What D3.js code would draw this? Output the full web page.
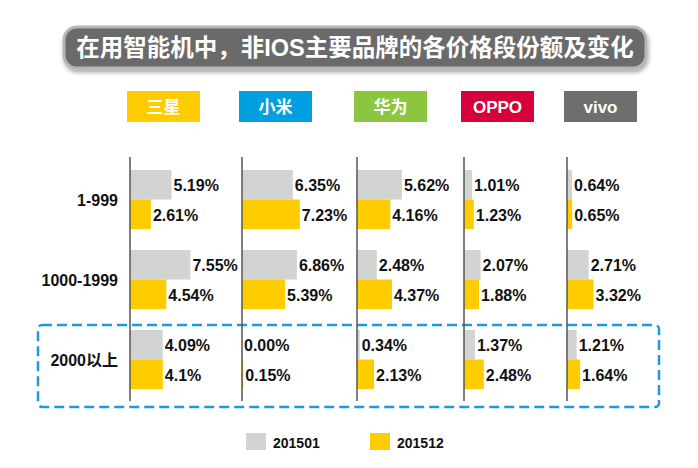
<!DOCTYPE html>
<html><head><meta charset="utf-8">
<script src="https://cdn.jsdelivr.net/npm/d3@7/dist/d3.min.js"></script>
<style>
html,body{margin:0;padding:0;background:#fff;}
svg{display:block;}
</style></head>
<body>
<svg id="c" width="698" height="468"></svg>
<script>
const title = "在用智能机中，非IOS主要品牌的各价格段份额及变化";
const brands = ["三星", "小米", "华为", "OPPO", "vivo"];
const brandColors = ["#FFCC00", "#009FDF", "#8CC63F", "#D6003A", "#6E6E6E"];
const ranges = ["1-999", "1000-1999", "2000以上"];
const series = ["201501", "201512"];
const seriesColors = ["#D3D3D1", "#FFCC00"];
// values per price range, per brand (share, %)
const v201501 = [
  ["5.19", "6.35", "5.62", "1.01", "0.64"],
  ["7.55", "6.86", "2.48", "2.07", "2.71"],
  ["4.09", "0.00", "0.34", "1.37", "1.21"]
];
const v201512 = [
  ["2.61", "7.23", "4.16", "1.23", "0.65"],
  ["4.54", "5.39", "4.37", "1.88", "3.32"],
  ["4.1", "0.15", "2.13", "2.48", "1.64"]
];

// layout
const panelX = [130, 242, 357, 464, 567];
const font = "'Liberation Sans','Noto Sans CJK SC',sans-serif";
const svg = d3.select("#c");

const defs = svg.append("defs");
const f = defs.append("filter").attr("id", "sh").attr("x", "-10%").attr("y", "-30%").attr("width", "120%").attr("height", "180%");
f.append("feDropShadow").attr("dx", 1).attr("dy", 3).attr("stdDeviation", 2).attr("flood-color", "#000").attr("flood-opacity", 0.35);

// title
svg.append("rect").attr("x", 64).attr("y", 27).attr("width", 582).attr("height", 41)
  .attr("rx", 13).attr("fill", "#6B6B6B").attr("stroke", "#B5B5B5").attr("stroke-width", 3)
  .attr("filter", "url(#sh)");
svg.append("text").attr("x", 355).attr("y", 48).attr("text-anchor", "middle")
  .attr("dominant-baseline", "central").attr("fill", "#fff")
  .attr("font-family", font).attr("font-weight", "bold").attr("font-size", 23.5)
  .text(title);

const xPanel = d3.scaleOrdinal().domain(brands).range(panelX);
const x = d3.scaleLinear().domain([0, 10]).range([0, 80]);
const yRow = d3.scalePoint().domain(ranges).range([200, 360]);
const ySer = d3.scaleBand().domain(series).range([-30, 29]).padding(0);

// brand headers
const hdr = svg.append("g").selectAll("g").data(brands).join("g")
  .attr("transform", d => `translate(${xPanel(d) - 3},91)`);
hdr.append("rect").attr("width", 73).attr("height", 31)
  .attr("fill", (d, i) => brandColors[i]);
hdr.append("text").attr("x", 36.5).attr("y", 16).attr("text-anchor", "middle")
  .attr("dominant-baseline", "central").attr("fill", "#fff")
  .attr("font-family", font).attr("font-weight", "bold").attr("font-size", 17)
  .text(d => d);

// dashed highlight box
svg.append("rect").attr("x", 38).attr("y", 325).attr("width", 621).attr("height", 82)
  .attr("rx", 4).attr("fill", "none").attr("stroke", "#1E9BD7").attr("stroke-width", 2.5)
  .attr("stroke-dasharray", "10,5");

// row labels
svg.append("g").selectAll("text").data(ranges).join("text")
  .attr("x", 118).attr("y", d => yRow(d)).attr("text-anchor", "end")
  .attr("dominant-baseline", "central").attr("fill", "#111")
  .attr("font-family", font).attr("font-weight", "bold").attr("font-size", 16)
  .text(d => d);

// bars
const data = [];
ranges.forEach((r, ri) => brands.forEach((b, bi) => {
  data.push({r, b, s: series[0], v: +v201501[ri][bi], t: v201501[ri][bi] + "%"});
  data.push({r, b, s: series[1], v: +v201512[ri][bi], t: v201512[ri][bi] + "%"});
}));

const g = svg.append("g");
g.selectAll("rect").data(data).join("rect")
  .attr("x", d => xPanel(d.b))
  .attr("y", d => yRow(d.r) + ySer(d.s))
  .attr("width", d => x(d.v))
  .attr("height", ySer.bandwidth())
  .attr("fill", d => seriesColors[series.indexOf(d.s)]);
g.selectAll("text").data(data).join("text")
  .attr("x", d => xPanel(d.b) + x(d.v) + 2)
  .attr("y", d => yRow(d.r) + ySer(d.s) + ySer.bandwidth() / 2 + 1)
  .attr("dominant-baseline", "central").attr("fill", "#111")
  .attr("font-family", font).attr("font-weight", "bold").attr("font-size", 16)
  .text(d => d.t);

// panel axes
svg.append("g").selectAll("line").data(brands).join("line")
  .attr("x1", d => xPanel(d)).attr("x2", d => xPanel(d))
  .attr("y1", 157).attr("y2", 401)
  .attr("stroke", "#555").attr("stroke-width", 1.5);

// legend
const lg = svg.append("g").selectAll("g").data(series).join("g")
  .attr("transform", (d, i) => `translate(${246 + i * 124},433)`);
lg.append("rect").attr("width", 20).attr("height", 17).attr("fill", (d, i) => seriesColors[i]);
lg.append("text").attr("x", 27).attr("y", 9.5).attr("dominant-baseline", "central")
  .attr("fill", "#111").attr("font-family", font).attr("font-weight", "bold").attr("font-size", 14)
  .text(d => d);
</script>
</body></html>
